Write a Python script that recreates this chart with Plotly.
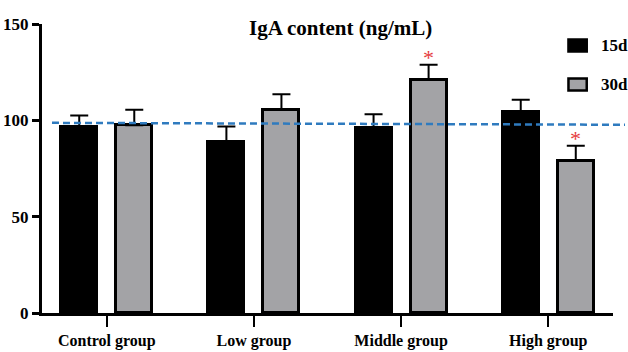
import plotly.graph_objects as go

# ---- data ----
categories = ["Control group", "Low group", "Middle group", "High group"]
series_names = ["15d", "30d"]
values_15d = [96.8, 88.5, 96.1, 104.3]
errors_15d = [5.7, 8.3, 7.0, 6.4]
values_30d = [97.5, 105.6, 121.0, 79.0]
errors_30d = [8.0, 8.0, 7.8, 7.8]
significant_30d = [False, False, True, True]
ref_line_y = [98.7, 97.7]
y_ticks = [0, 50, 100, 150]
title_text = "IgA content (ng/mL)"

FONT = "Liberation Serif"
COL_15 = "black"
COL_30 = "#a3a3a6"
x_pos = list(range(len(categories)))
offset = 0.187
bw = 0.245

fig = go.Figure()
fig.add_trace(go.Bar(
    x=[x - offset for x in x_pos], y=values_15d, width=bw, name=series_names[0],
    marker=dict(color=COL_15, line=dict(color="black", width=3)),
    error_y=dict(type="data", array=errors_15d, arrayminus=[0] * 4, symmetric=False,
                 color="black", thickness=2, width=9),
))
fig.add_trace(go.Bar(
    x=[x + offset for x in x_pos], y=values_30d, width=bw, name=series_names[1],
    marker=dict(color=COL_30, line=dict(color="black", width=3)),
    error_y=dict(type="data", array=errors_30d, arrayminus=[0] * 4, symmetric=False,
                 color="black", thickness=2, width=9),
))

# significance asterisks above the 30d error bars
for x, v, e, s in zip(x_pos, values_30d, errors_30d, significant_30d):
    if s:
        fig.add_annotation(x=x + offset, y=v + e, text="*", showarrow=False,
                           xanchor="center", yanchor="middle", yshift=7,
                           font=dict(color="#e53b3e", size=22, family=FONT))

fig.add_shape(type="line", xref="paper", yref="y", x0=0.0175, x1=1.021,
              y0=ref_line_y[0], y1=ref_line_y[1], layer="above",
              line=dict(color="#2f7bbf", width=2.5, dash="7px,4px"))

# manual legend (boxes + labels)
legend_rows = [(0.946, 0.905, COL_15, 0.926), (0.811, 0.770, COL_30, 0.791)]
for name, (y_top, y_bot, col, y_mid) in zip(series_names, legend_rows):
    fig.add_shape(type="rect", xref="paper", yref="paper", x0=0.922, x1=0.954,
                  y0=y_bot, y1=y_top, fillcolor=col, line=dict(color="black", width=2.5))
    fig.add_annotation(text=name, xref="paper", yref="paper", x=0.975, y=y_mid,
                       xanchor="left", yanchor="middle", showarrow=False,
                       font=dict(family=FONT, size=17, color="black", weight="bold"))

fig.update_layout(
    width=628, height=352, autosize=False,
    margin=dict(l=42, r=15, t=24, b=39),
    plot_bgcolor="white", paper_bgcolor="white",
    title=dict(text=title_text, x=0.523, xanchor="center", y=0.922, yanchor="middle",
               xref="paper", yref="container",
               font=dict(family=FONT, size=21, color="black", weight="bold")),
    showlegend=False,
    bargap=0,
    xaxis=dict(range=[-0.44, 3.44], tickmode="array", tickvals=x_pos, ticktext=categories,
               ticks="outside", ticklen=11, tickwidth=2, tickcolor="black",
               showline=True, linewidth=3, linecolor="black", showgrid=False, zeroline=False,
               automargin=False,
               tickfont=dict(family=FONT, size=16, color="black", weight="bold")),
    yaxis=dict(range=[0, 150], tickmode="array", tickvals=y_ticks,
               ticks="outside", ticklen=7, tickwidth=3, tickcolor="black",
               showline=True, linewidth=3, linecolor="black", showgrid=False, zeroline=False,
               automargin=False,
               tickfont=dict(family=FONT, size=17, color="black", weight="bold")),
)

fig.write_html("out.html", config={"displayModeBar": False},
               post_script="document.body.style.margin='0';")
